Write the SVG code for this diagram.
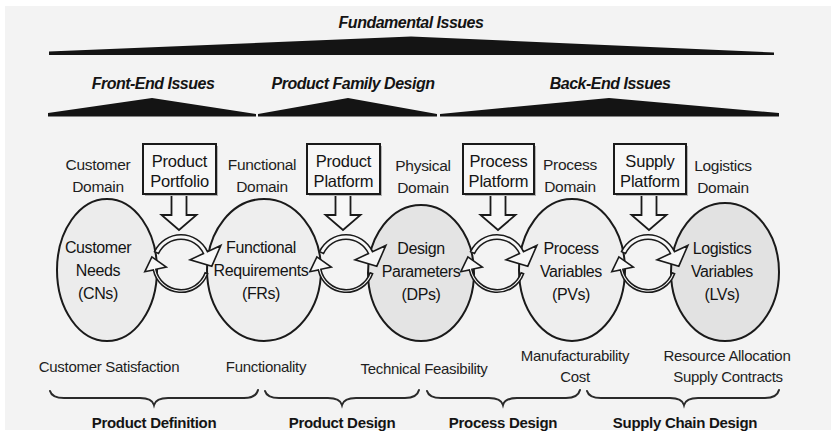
<svg xmlns="http://www.w3.org/2000/svg" width="831" height="433" viewBox="0 0 831 433">
<defs>
<style>
.t{font-family:"Liberation Sans",Arial,sans-serif;fill:#141414;text-anchor:middle}
.h{font-weight:bold;font-style:italic;font-size:16px;letter-spacing:-0.5px}
.d{font-size:15.5px;letter-spacing:-0.3px;fill:#1e1e1e}
.o{font-size:16px;letter-spacing:-0.4px}
.b{font-size:16.5px;letter-spacing:-0.2px}
.f{font-size:15px;letter-spacing:-0.3px;fill:#1e1e1e}
.l{font-size:15px;font-weight:bold;letter-spacing:-0.3px}
.tri{fill:#141414}
.oval{stroke:#1a1a1a;stroke-width:2}
.box{fill:#f7f7f7;stroke:#1a1a1a;stroke-width:2}
.shadow{fill:#b4b4b4}
.harrow{fill:#f7f7f7;stroke:#1a1a1a;stroke-width:1.8;stroke-linejoin:miter}
.band{fill:#f7f7f7;stroke:#1a1a1a;stroke-width:1.6;stroke-linejoin:miter}
.brace{fill:none;stroke:#2a2a2a;stroke-width:2;stroke-linecap:round}
</style>
<clipPath id="clipR"><rect x="0" y="0" width="792" height="433"/></clipPath>
<g id="cycle">
<path class="band" d="M26.59,9.68 A28.3,28.3 0 0 1 -27.68,5.88 L-36.19,7.69 L-29.11,-7.10 L-14.67,3.12 L-25.14,5.34 A25.7,25.7 0 0 0 24.15,8.79 Z"/>
<path class="band" d="M-26.46,-12.34 A29.2,29.2 0 0 1 26.46,-12.34 L39.88,-18.59 L30.81,2.18 L9.06,-4.23 L22.48,-10.48 A24.8,24.8 0 0 0 -22.48,-10.48 Z"/>
</g>
<path id="down" class="harrow" d="M-7.5,0 V21 H-17.5 L0,36 L17.5,21 H7.5 V0"/>
</defs>

<rect x="0" y="0" width="831" height="433" fill="#ffffff"/>
<rect x="5" y="6" width="826" height="424" fill="#f3f3f3"/>

<g id="header">
<text class="t h" x="411" y="28">Fundamental Issues</text>
<polygon class="tri" points="49,51.5 411,36.5 774,52.5 774,55 49,55"/>
<text class="t h" x="153" y="89">Front-End Issues</text>
<text class="t h" x="353" y="89">Product Family Design</text>
<text class="t h" x="610" y="89">Back-End Issues</text>
<polygon class="tri" points="48,113 152,98 256,114 256,116.5 48,116.5"/>
<polygon class="tri" points="258,114 348,98 437,114 437,116.5 258,116.5"/>
<polygon class="tri" points="440,114 609,98 779,113 779,116.5 440,116.5"/>
</g>

<g id="domains">
<text class="t d" x="98" y="170">Customer</text>
<text class="t d" x="98" y="192">Domain</text>
<text class="t d" x="262" y="170">Functional</text>
<text class="t d" x="262" y="192">Domain</text>
<text class="t d" x="423" y="171">Physical</text>
<text class="t d" x="423" y="193">Domain</text>
<text class="t d" x="570" y="170">Process</text>
<text class="t d" x="570" y="192">Domain</text>
<text class="t d" x="723" y="171">Logistics</text>
<text class="t d" x="723" y="193">Domain</text>
</g>

<g id="node-cn">
<ellipse class="oval" cx="107" cy="270" rx="50" ry="71" fill="#ececec"/>
<text class="t o" x="98" y="253">Customer</text>
<text class="t o" x="98" y="276">Needs</text>
<text class="t o" x="98" y="299">(CNs)</text>
</g>
<g id="node-fr">
<ellipse class="oval" cx="264" cy="270" rx="57" ry="71" fill="#eeeeee"/>
<text class="t o" x="261" y="253">Functional</text>
<text class="t o" x="261" y="276">Requirements</text>
<text class="t o" x="261" y="299">(FRs)</text>
</g>
<g id="node-dp">
<ellipse class="oval" cx="421" cy="273" rx="53" ry="68" fill="#e4e4e4"/>
<text class="t o" x="421" y="254">Design</text>
<text class="t o" x="421" y="277">Parameters</text>
<text class="t o" x="421" y="300">(DPs)</text>
</g>
<g id="node-pv">
<ellipse class="oval" cx="572" cy="270" rx="53" ry="71" fill="#eeeeee"/>
<text class="t o" x="571" y="254">Process</text>
<text class="t o" x="571" y="277">Variables</text>
<text class="t o" x="571" y="300">(PVs)</text>
</g>
<g id="node-lv">
<ellipse class="oval" cx="725" cy="272" rx="54" ry="69" fill="#e2e2e2"/>
<text class="t o" x="722" y="254">Logistics</text>
<text class="t o" x="722" y="277">Variables</text>
<text class="t o" x="722" y="300">(LVs)</text>
</g>

<g id="connectors">
<use href="#cycle" x="181" y="264"/>
<use href="#cycle" x="346" y="264"/>
<use href="#cycle" x="497" y="264"/>
<use href="#cycle" x="648" y="264"/>
<use href="#down" x="179" y="194"/>
<use href="#down" x="343" y="194"/>
<use href="#down" x="498" y="194"/>
<use href="#down" x="649" y="194"/>
</g>

<g id="box-portfolio">
<rect class="shadow" x="145" y="146" width="73" height="50"/>
<rect class="box" x="143" y="144" width="73" height="50"/>
<text class="t b" x="179.5" y="167">Product</text>
<text class="t b" x="179.5" y="187">Portfolio</text>
</g>
<g id="box-product-platform">
<rect class="shadow" x="309" y="146" width="73" height="50"/>
<rect class="box" x="307" y="144" width="73" height="50"/>
<text class="t b" x="343.5" y="167">Product</text>
<text class="t b" x="343.5" y="187">Platform</text>
</g>
<g id="box-process-platform">
<rect class="shadow" x="465" y="146" width="71" height="50"/>
<rect class="box" x="463" y="144" width="71" height="50"/>
<text class="t b" x="498.5" y="167">Process</text>
<text class="t b" x="498.5" y="187">Platform</text>
</g>
<g id="box-supply-platform">
<rect class="shadow" x="616" y="146" width="72" height="50"/>
<rect class="box" x="614" y="144" width="72" height="50"/>
<text class="t b" x="650" y="167">Supply</text>
<text class="t b" x="650" y="187">Platform</text>
</g>

<g id="criteria">
<text class="t f" x="109" y="372">Customer Satisfaction</text>
<text class="t f" x="266" y="372">Functionality</text>
<text class="t f" x="424" y="374">Technical Feasibility</text>
<text class="t f" x="575" y="361">Manufacturability</text>
<text class="t f" x="575" y="382">Cost</text>
<text class="t f" x="727" y="361" clip-path="url(#clipR)">Resource Allocation</text>
<text class="t f" x="728" y="382">Supply Contracts</text>
</g>

<g id="braces">
<path class="brace" d="M50,391 Q52,398 64,398 L140,398 Q152,398 154,405 Q156,398 168,398 L244,398 Q256,398 258,390"/>
<path class="brace" d="M265,391 Q267,398 279,398 L328,398 Q340,398 342,405 Q344,398 356,398 L405,398 Q417,398 419,390"/>
<path class="brace" d="M427,391 Q429,398 441,398 L489,398 Q501,398 503,405 Q505,398 517,398 L566,398 Q578,398 580,390"/>
<path class="brace" d="M587,391 Q589,398 601,398 L670,398 Q682,398 684,405 Q686,398 698,398 L765,398 Q777,398 779,390"/>
</g>

<g id="phases">
<text class="t l" x="154" y="428">Product Definition</text>
<text class="t l" x="342" y="428">Product Design</text>
<text class="t l" x="503" y="428">Process Design</text>
<text class="t l" x="685" y="428">Supply Chain Design</text>
</g>
</svg>
